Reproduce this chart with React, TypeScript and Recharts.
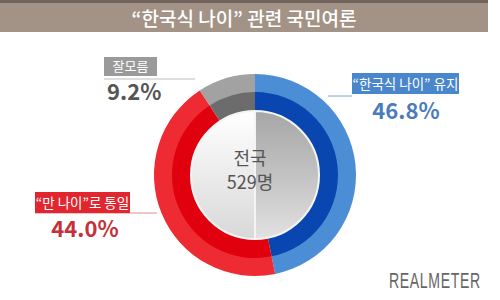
import React from 'react'
import { PieChart, Pie, Cell } from 'recharts'

const TITLE = '“한국식 나이” 관련 국민여론'
const CATEGORIES = ['“한국식 나이” 유지', '“만 나이”로 통일', '잘모름']
const VALUES = [46.8, 44.0, 9.2]
const OUTER_COLORS = ['#4c8ed5', '#ee2a33', '#a2a2a2']
const INNER_COLORS = ['#0a46b0', '#e0000e', '#6c6c6c']
const TOTAL_LABEL = ['전국', '529명']
const DISC = [1, 1]

const FONT = '"Noto Sans CJK KR", "Noto Sans", sans-serif'

const rows = CATEGORIES.map((name, i) => ({ name, value: VALUES[i] }))
const discRows = DISC.map((value, i) => ({ name: `half-${i}`, value }))

export default function App() {
  return (
    <div style={{ position: 'absolute', top: 0, left: 0, width: 500, height: 300, background: '#fff', fontFamily: FONT }}>
      <div style={{ position: 'absolute', left: 0, top: 0, width: 488, height: 3, background: '#6f635b' }} />
      <div
        style={{
          position: 'absolute', left: 0, top: 3, width: 488, height: 29, background: '#a39386',
          color: '#fff', fontSize: 19, lineHeight: '29px', textAlign: 'center', fontWeight: 500,
        }}
      >
        {TITLE}
      </div>

      <div style={{ position: 'absolute', left: 0, top: 0 }}>
        <PieChart width={500} height={300}>
          <defs>
            <linearGradient id="discLeft" x1="0" y1="0" x2="0" y2="1">
              <stop offset="0%" stopColor="#ffffff" />
              <stop offset="100%" stopColor="#d8d8d8" />
            </linearGradient>
            <linearGradient id="discRight" x1="0" y1="0" x2="0" y2="1">
              <stop offset="0%" stopColor="#a6a6a6" />
              <stop offset="50%" stopColor="#c2c2c2" />
              <stop offset="100%" stopColor="#e2e2e2" />
            </linearGradient>
          </defs>
          <Pie
            data={rows}
            dataKey="value"
            nameKey="name"
            cx={250}
            cy={170}
            startAngle={90}
            endAngle={-270}
            innerRadius={82}
            outerRadius={101}
            stroke="none"
            isAnimationActive={false}
          >
            {rows.map((_, idx) => (
              <Cell key={`o-${idx}`} fill={OUTER_COLORS[idx]} />
            ))}
          </Pie>
          <Pie
            data={rows}
            dataKey="value"
            nameKey="name"
            cx={250}
            cy={170}
            startAngle={90}
            endAngle={-270}
            innerRadius={63}
            outerRadius={83}
            stroke="none"
            isAnimationActive={false}
          >
            {rows.map((_, idx) => (
              <Cell key={`i-${idx}`} fill={INNER_COLORS[idx]} />
            ))}
          </Pie>
          <Pie
            data={discRows}
            dataKey="value"
            cx={250}
            cy={170}
            startAngle={90}
            endAngle={-270}
            innerRadius={0}
            outerRadius={64}
            stroke="#f4f4f4"
            strokeWidth={2}
            isAnimationActive={false}
          >
            <Cell fill="url(#discRight)" />
            <Cell fill="url(#discLeft)" />
          </Pie>
        </PieChart>
      </div>

      <svg width={500} height={300} style={{ position: 'absolute', left: 0, top: 0, pointerEvents: 'none' }}>
        {/* center */}
        <text x={250} y={165} textAnchor="middle" fontSize={18} fill="#555" fontFamily={FONT}>{TOTAL_LABEL[0]}</text>
        <text x={250} y={189} textAnchor="middle" fontSize={18} fill="#555" fontFamily={FONT}>{TOTAL_LABEL[1]}</text>

        {/* 잘모름 */}
        <line x1={104} y1={79} x2={195} y2={79} stroke="#bdbdbd" strokeWidth={1} />
        <rect x={104} y={57} width={53} height={19} fill="#9a9a9a" />
        <text x={130.5} y={71} textAnchor="middle" fontSize={13} fill="#fff" fontFamily={FONT}>{CATEGORIES[2]}</text>
        <text x={107} y={100} fontSize={22} fontWeight={600} fill="#555" fontFamily={FONT}>{VALUES[2].toFixed(1)}%</text>

        {/* 유지 */}
        <line x1={328} y1={96} x2={352} y2={96} stroke="#7aa6d8" strokeWidth={1} />
        <rect x={352} y={73} width={107} height={21} fill="#4a86cc" />
        <text x={405.5} y={89} textAnchor="middle" fontSize={13.5} fill="#fff" fontFamily={FONT}>{CATEGORIES[0]}</text>
        <text x={406} y={119} textAnchor="middle" fontSize={22} fontWeight={600} fill="#4a7cbc" fontFamily={FONT}>{VALUES[0].toFixed(1)}%</text>

        {/* 통일 */}
        <line x1={35} y1={213} x2={157} y2={213} stroke="#e88a8e" strokeWidth={1} />
        <rect x={35} y={192} width={95} height={21} fill="#e1262f" />
        <text x={82.5} y={208} textAnchor="middle" fontSize={13.5} fill="#fff" fontFamily={FONT}>{CATEGORIES[1]}</text>
        <text x={85} y={237} textAnchor="middle" fontSize={22} fontWeight={600} fill="#c3323b" fontFamily={FONT}>{VALUES[1].toFixed(1)}%</text>

        {/* logo */}
        <text transform="translate(389,288) scale(0.64,1)" x={0} y={0} fontSize={22} fill="#666" fontFamily='"Liberation Sans", sans-serif' letterSpacing={1}>REALMETER</text>
      </svg>
    </div>
  )
}
